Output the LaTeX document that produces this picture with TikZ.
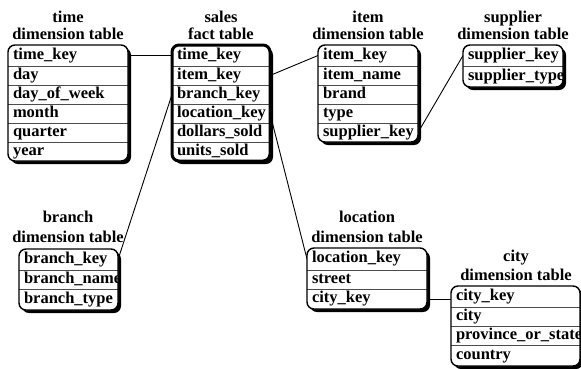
\documentclass[tikz,border=0pt]{standalone}
\usepackage{fontspec}
\setmainfont{Liberation Serif}
\usetikzlibrary{shadows}
\pgfdeclarelayer{background}
\pgfsetlayers{background,main}
\hyphenpenalty=10000
\exhyphenpenalty=10000
\tikzset{
  tfont/.style={font=\fontsize{16.5}{18}\selectfont\bfseries},
  tbox/.style={rectangle, rounded corners=7pt, fill=white, draw=none, anchor=north west,
    inner sep=0pt, outer sep=0pt,
    drop shadow={shadow xshift=3pt, shadow yshift=-3pt, fill=black, opacity=1}},
  tborder/.style={draw=black, line width=1.4pt, rounded corners=7pt},
  fborder/.style={draw=black, line width=3pt, rounded corners=7pt},
  trow/.style={rectangle, anchor=north west, inner xsep=5pt, inner ysep=0pt, outer sep=0pt,
    text height=11pt, text depth=3.5pt, align=left, tfont},
  tsep/.style={draw=black!70, line width=0.9pt},
  ttitle/.style={anchor=base, inner sep=0pt, tfont},
  link/.style={draw=black, line width=0.9pt}
}
\begin{document}
\begin{tikzpicture}[x=1pt,y=-1pt]
\useasboundingbox (0,0) rectangle (581,368);

% ---------- time dimension table
\node[ttitle] (time-t1) at (68,22) {time};
\node[ttitle] (time-t2) at (68,39) {dimension table};
\node[tbox, minimum width=120pt, minimum height=116pt] (time) at (8,45) {};
\begin{scope}
\clip[rounded corners=7pt] (time.north west) rectangle (time.south east);
\node[trow, text width=110pt, minimum height=21pt] (time-1) at (time.north west) {time\_key};
\node[trow, text width=110pt, minimum height=19pt] (time-2) at (time-1.south west) {day};
\node[trow, text width=110pt, minimum height=19pt] (time-3) at (time-2.south west) {day\_of\_week};
\node[trow, text width=110pt, minimum height=19pt] (time-4) at (time-3.south west) {month};
\node[trow, text width=110pt, minimum height=19pt] (time-5) at (time-4.south west) {quarter};
\node[trow, text width=110pt, minimum height=19pt] (time-6) at (time-5.south west) {year};
\foreach \r in {1,...,5} \draw[tsep] (time-\r.south west) -- (time-\r.south east);
\end{scope}
\draw[tborder] (time.north west) rectangle (time.south east);

% ---------- sales fact table
\node[ttitle] (sales-t1) at (221,22) {sales};
\node[ttitle] (sales-t2) at (221,39) {fact table};
\node[tbox, minimum width=98pt, minimum height=116pt] (sales) at (172,45) {};
\begin{scope}
\clip[rounded corners=7pt] (sales.north west) rectangle (sales.south east);
\node[trow, text width=88pt, minimum height=21pt] (sales-1) at (sales.north west) {time\_key};
\node[trow, text width=88pt, minimum height=19pt] (sales-2) at (sales-1.south west) {item\_key};
\node[trow, text width=88pt, minimum height=19pt] (sales-3) at (sales-2.south west) {branch\_key};
\node[trow, text width=88pt, minimum height=19pt] (sales-4) at (sales-3.south west) {location\_key};
\node[trow, text width=88pt, minimum height=19pt] (sales-5) at (sales-4.south west) {dollars\_sold};
\node[trow, text width=88pt, minimum height=19pt] (sales-6) at (sales-5.south west) {units\_sold};
\foreach \r in {1,...,5} \draw[tsep] (sales-\r.south west) -- (sales-\r.south east);
\end{scope}
\draw[fborder] (sales.north west) rectangle (sales.south east);

% ---------- item dimension table
\node[ttitle] (item-t1) at (368,22) {item};
\node[ttitle] (item-t2) at (368,39) {dimension table};
\node[tbox, minimum width=100pt, minimum height=97pt] (item) at (318,45) {};
\begin{scope}
\clip[rounded corners=7pt] (item.north west) rectangle (item.south east);
\node[trow, text width=90pt, minimum height=21pt] (item-1) at (item.north west) {item\_key};
\node[trow, text width=90pt, minimum height=19pt] (item-2) at (item-1.south west) {item\_name};
\node[trow, text width=90pt, minimum height=19pt] (item-3) at (item-2.south west) {brand};
\node[trow, text width=90pt, minimum height=19pt] (item-4) at (item-3.south west) {type};
\node[trow, text width=90pt, minimum height=19pt] (item-5) at (item-4.south west) {supplier\_key};
\foreach \r in {1,...,4} \draw[tsep] (item-\r.south west) -- (item-\r.south east);
\end{scope}
\draw[tborder] (item.north west) rectangle (item.south east);

% ---------- supplier dimension table
\node[ttitle] (supplier-t1) at (513,22) {supplier};
\node[ttitle] (supplier-t2) at (513,39) {dimension table};
\node[tbox, minimum width=100pt, minimum height=42pt] (supplier) at (463,45) {};
\begin{scope}
\clip[rounded corners=7pt] (supplier.north west) rectangle (supplier.south east);
\node[trow, text width=90pt, minimum height=21pt] (supplier-1) at (supplier.north west) {supplier\_key};
\node[trow, text width=90pt, minimum height=21pt] (supplier-2) at (supplier-1.south west) {supplier\_type};
\draw[tsep] (supplier-1.south west) -- (supplier-1.south east);
\end{scope}
\draw[tborder] (supplier.north west) rectangle (supplier.south east);

% ---------- branch dimension table
\node[ttitle] (branch-t1) at (68,222) {branch};
\node[ttitle] (branch-t2) at (68,242) {dimension table};
\node[tbox, minimum width=99pt, minimum height=61pt] (branch) at (19,249) {};
\begin{scope}
\clip[rounded corners=7pt] (branch.north west) rectangle (branch.south east);
\node[trow, text width=89pt, minimum height=21pt] (branch-1) at (branch.north west) {branch\_key};
\node[trow, text width=89pt, minimum height=19pt] (branch-2) at (branch-1.south west) {branch\_name};
\node[trow, text width=89pt, minimum height=21pt] (branch-3) at (branch-2.south west) {branch\_type};
\foreach \r in {1,2} \draw[tsep] (branch-\r.south west) -- (branch-\r.south east);
\end{scope}
\draw[tborder] (branch.north west) rectangle (branch.south east);

% ---------- location dimension table
\node[ttitle] (location-t1) at (367,222) {location};
\node[ttitle] (location-t2) at (367,242) {dimension table};
\node[tbox, minimum width=120pt, minimum height=61pt] (location) at (307,248) {};
\begin{scope}
\clip[rounded corners=7pt] (location.north west) rectangle (location.south east);
\node[trow, text width=110pt, minimum height=22pt] (location-1) at (location.north west) {location\_key};
\node[trow, text width=110pt, minimum height=19pt] (location-2) at (location-1.south west) {street};
\node[trow, text width=110pt, minimum height=20pt] (location-3) at (location-2.south west) {city\_key};
\foreach \r in {1,2} \draw[tsep] (location-\r.south west) -- (location-\r.south east);
\end{scope}
\draw[tborder] (location.north west) rectangle (location.south east);

% ---------- city dimension table
\node[ttitle] (city-t1) at (516,261) {city};
\node[ttitle] (city-t2) at (516,280) {dimension table};
\node[tbox, minimum width=129pt, minimum height=80pt] (city) at (451,286) {};
\begin{scope}
\clip[rounded corners=7pt] (city.north west) rectangle (city.south east);
\node[trow, text width=119pt, minimum height=21pt] (city-1) at (city.north west) {city\_key};
\node[trow, text width=119pt, minimum height=19pt] (city-2) at (city-1.south west) {city};
\node[trow, text width=119pt, minimum height=19pt] (city-3) at (city-2.south west) {province\_or\_state};
\node[trow, text width=119pt, minimum height=21pt] (city-4) at (city-3.south west) {country};
\foreach \r in {1,2,3} \draw[tsep] (city-\r.south west) -- (city-\r.south east);
\end{scope}
\draw[tborder] (city.north west) rectangle (city.south east);

% ---------- connectors
\begin{pgfonlayer}{background}
\draw[link] (time-1.east) -- (sales-1.west);
\draw[link] (sales-2.east) -- (item-1.west);
\draw[link] (sales-3.west) -- (branch-1.east);
\draw[link] (sales-4.east) -- (location-1.west);
\draw[link] (item-5.east) -- (supplier-1.west);
\draw[link] (location-3.east) -- (location-3.east -| city-1.west);
\end{pgfonlayer}
\end{tikzpicture}
\end{document}
